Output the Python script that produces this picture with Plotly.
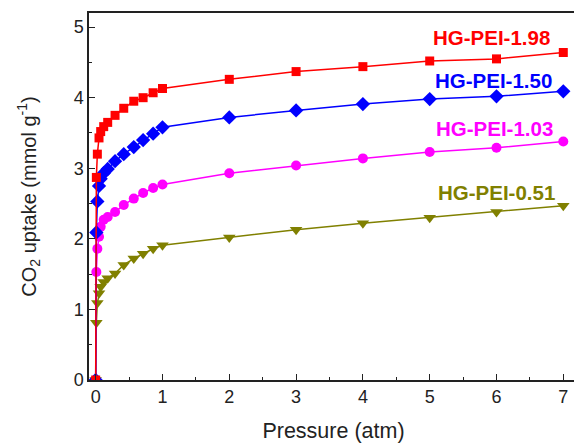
import plotly.graph_objects as go

pressure = [0, 0.01, 0.025, 0.05, 0.075, 0.12, 0.18, 0.29, 0.42, 0.57, 0.71, 0.86, 1.0, 2, 3, 4, 5, 6, 7]
hg_198 = [0, 2.87, 3.20, 3.43, 3.52, 3.59, 3.65, 3.75, 3.85, 3.95, 4.00, 4.07, 4.13, 4.26, 4.37, 4.44, 4.52, 4.55, 4.64]
hg_150 = [0, 2.09, 2.53, 2.75, 2.85, 2.93, 2.99, 3.10, 3.20, 3.30, 3.40, 3.49, 3.58, 3.72, 3.82, 3.91, 3.98, 4.02, 4.09]
hg_103 = [0, 1.53, 1.86, 2.03, 2.17, 2.27, 2.31, 2.38, 2.48, 2.57, 2.65, 2.72, 2.77, 2.93, 3.04, 3.14, 3.23, 3.29, 3.38]
hg_051 = [0, 0.81, 1.09, 1.23, 1.32, 1.39, 1.44, 1.51, 1.63, 1.72, 1.79, 1.86, 1.91, 2.02, 2.13, 2.22, 2.30, 2.38, 2.47]

series = [
    ("HG-PEI-0.51", hg_051, "#808000", "triangle-down", 11, 6.0, 2.65),
    ("HG-PEI-1.03", hg_103, "#FF00FF", "circle", 10, 5.97, 3.57),
    ("HG-PEI-1.50", hg_150, "#0000FF", "diamond", 11, 5.95, 4.25),
    ("HG-PEI-1.98", hg_198, "#FF0000", "square", 9, 5.93, 4.86),
]

fig = go.Figure()
for name, ys, color, sym, size, lx, ly in series:
    fig.add_trace(go.Scatter(
        x=pressure, y=ys, mode="lines+markers", name=name,
        line=dict(color=color, width=1.5),
        marker=dict(color=color, symbol=sym, size=size, line=dict(width=0)),
    ))
    fig.add_annotation(x=lx, y=ly, text="<b>%s</b>" % name, showarrow=False,
                       font=dict(family="Arial, Liberation Sans", size=20.5, color=color),
                       xanchor="center", yanchor="middle")

axis_common = dict(
    showline=True, linecolor="#222222", linewidth=1.5, mirror=True,
    ticks="inside", ticklen=6, tickwidth=1.2, tickcolor="#222222",
    showgrid=False, zeroline=False, automargin=False,
    tickfont=dict(family="Arial, Liberation Sans", size=18, color="#222222"),
    minor=dict(ticks="inside", ticklen=3.5, tickwidth=1, tickcolor="#222222", dtick=0.5, showgrid=False),
)

fig.update_xaxes(range=[-0.1, 7.22], dtick=1, tick0=0,
                 title=dict(text="Pressure (atm)", standoff=17,
                            font=dict(family="Arial, Liberation Sans", size=21.5, color="#222222")),
                 **axis_common)
fig.update_yaxes(range=[0, 5.2], dtick=1, tick0=0,
                 title=dict(text="CO<sub>2</sub> uptake (mmol g<sup>-1</sup>)", standoff=32,
                            font=dict(family="Arial, Liberation Sans", size=20, color="#222222")),
                 **axis_common)

# page body adds an 8px offset; margins compensate so the plot box lands where the reference has it
fig.update_layout(
    width=582, height=444,
    margin=dict(l=81, r=12, t=5, b=72, autoexpand=False),
    plot_bgcolor="white", paper_bgcolor="white",
    showlegend=False,
)

fig.write_html("out.html")
